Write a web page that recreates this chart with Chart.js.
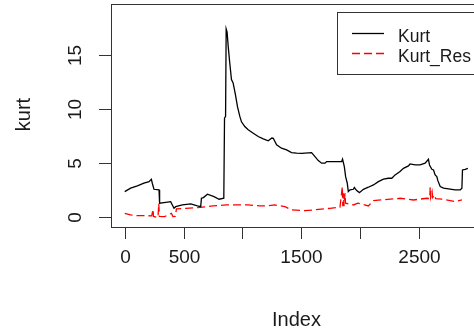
<!DOCTYPE html>
<html>
<head>
<meta charset="utf-8">
<script src="https://cdn.jsdelivr.net/npm/chart.js@4/dist/chart.umd.min.js"></script>
<style>
    html, body { margin: 0; padding: 0; background: #fff; overflow: hidden; }
    canvas { display: block; }
</style>
</head>
<body>
<canvas id="kurtChart" width="490" height="333"></canvas>
<script>
// Dati: indice e valore della serie Kurt
const kurtIndice = [1, 51, 108, 164, 207, 227, 235, 249, 292, 297, 334, 391, 405, 419, 434, 490, 561, 618, 646,
    652, 669, 703, 759, 802, 842, 848, 857, 862, 870, 879, 893, 907, 921, 941, 958, 978, 992, 1020, 1049, 1092,
    1134, 1177, 1219, 1250, 1262, 1290, 1332, 1375, 1417, 1460, 1502, 1587, 1616, 1644, 1672, 1701, 1715, 1842,
    1850, 1865, 1876, 1890, 1899, 1913, 1942, 1950, 1970, 1993, 2027, 2069, 2112, 2154, 2197, 2239, 2268, 2296,
    2338, 2367, 2409, 2423, 2466, 2508, 2551, 2579, 2588, 2608, 2622, 2636, 2650, 2659, 2679, 2707, 2749, 2806,
    2849, 2863, 2868, 2891, 2914];
const kurtValori = [2.34, 2.66, 2.87, 3.12, 3.27, 3.49, 3.12, 2.56, 2.50, 1.27, 1.33, 1.42, 1.11, 0.80, 0.95, 1.11, 1.20, 1.02, 0.95,
    1.73, 1.79, 2.10, 1.88, 1.64, 1.73, 9.14, 9.30, 17.4, 17.1, 15.8, 14.2, 12.7, 12.4, 11.3, 10.2, 9.3, 8.8, 8.36, 8.06, 7.75,
    7.44, 7.22, 7.04, 7.30, 7.28, 6.67, 6.36, 6.20, 5.95, 5.90, 5.88, 5.95, 5.58, 5.21, 4.97, 4.97, 5.12, 5.12,
    5.34, 4.66, 3.73, 3.12, 2.34, 2.50, 2.56, 2.72, 2.44, 2.25, 2.56, 2.75, 2.96, 3.27, 3.49, 3.58, 3.58, 3.89,
    4.20, 4.50, 4.72, 4.90, 4.81, 4.81, 4.97, 5.34, 4.81, 4.41, 4.35, 3.89, 3.73, 3.36, 2.81, 2.66, 2.59, 2.50,
    2.50, 2.66, 4.35, 4.41, 4.50];

// Dati della serie Kurt_Res
const resIndice = [1, 50, 100, 184, 230, 241, 245, 283, 290, 295, 340, 397, 410, 430, 440, 520, 640, 751, 864, 1049,
    1148, 1190, 1276, 1361, 1417, 1531, 1601, 1743, 1828, 1848, 1852, 1858, 1862, 1871, 1875, 1942, 1980, 2069, 2112,
    2254, 2338, 2452, 2565, 2590, 2594, 2598, 2610, 2615, 2630, 2640, 2693, 2764, 2806, 2863];
const resValori = [0.34, 0.20, 0.12, 0.12, 0.10, 0.71, 0.05, -0.05, 1.25, 0.05, 0.03, 0.34, 0.03, 0.05, 0.75, 0.80, 0.88, 1.02, 1.11, 1.11,
    1.02, 1.02, 1.11, 0.95, 0.65, 0.58, 0.65, 0.80, 0.90, 2.81, 1.00, 2.19, 1.00, 2.19, 1.27, 1.11, 1.27, 1.02, 1.51,
    1.64, 1.73, 1.57, 1.73, 1.70, 2.75, 1.80, 2.34, 1.80, 2.04, 1.70, 1.64, 1.51, 1.42, 1.57];

// Tacche degli assi
const tackX = [0, 500, 1000, 1500, 2000, 2500, 3000];
const etichetteX = ['0', '500', '', '1500', '', '2500', ''];
const tackY = [0, 5, 10, 15];
const etichetteY = ['0', '5', '10', '15'];

const nomiSerie = ['Kurt', 'Kurt_Res'];

const FONT = "'Liberation Sans', Arial, sans-serif";

// Costruisce i punti {x, y} per Chart.js
function creaPunti(indici, valori) {
    return indici.map((x, i) => ({ x: x, y: valori[i] }));
}

// Plugin che disegna assi e legenda in stile R
const assiR = {
    id: 'assiR',
    afterDraw(chart) {
        const ctx = chart.ctx;
        const area = chart.chartArea;
        const sx = chart.scales.x;
        const sy = chart.scales.y;

        ctx.save();
        ctx.strokeStyle = '#333';
        ctx.lineWidth = 1;
        ctx.strokeRect(Math.round(area.left) + 0.5, Math.round(area.top) + 0.5,
            Math.round(area.right - area.left), Math.round(area.bottom - area.top));

        ctx.fillStyle = '#1a1a1a';
        ctx.font = '19px ' + FONT;

        // asse x
        ctx.textAlign = 'center';
        ctx.textBaseline = 'alphabetic';
        tackX.forEach((v, i) => {
            const px = Math.round(sx.getPixelForValue(v)) + 0.5;
            ctx.beginPath();
            ctx.moveTo(px, area.bottom);
            ctx.lineTo(px, area.bottom + 12);
            ctx.stroke();
            if (etichetteX[i]) ctx.fillText(etichetteX[i], px, 263);
        });

        // asse y
        tackY.forEach((v, i) => {
            const py = Math.round(sy.getPixelForValue(v)) + 0.5;
            ctx.beginPath();
            ctx.moveTo(area.left, py);
            ctx.lineTo(area.left - 12, py);
            ctx.stroke();
            ctx.save();
            ctx.translate(81, py);
            ctx.rotate(-Math.PI / 2);
            ctx.fillText(etichetteY[i], 0, 0);
            ctx.restore();
        });

        // titoli degli assi
        ctx.font = '20px ' + FONT;
        ctx.fillText('Index', (area.left + area.right) / 2, 326);
        ctx.save();
        ctx.translate(30, (area.top + area.bottom) / 2 - 1);
        ctx.rotate(-Math.PI / 2);
        ctx.fillText('kurt', 0, 0);
        ctx.restore();

        // legenda
        ctx.fillStyle = '#fff';
        ctx.fillRect(337.5, 12.5, 143, 62);
        ctx.strokeRect(337.5, 12.5, 143, 62);
        ctx.lineWidth = 1.3;
        ctx.strokeStyle = '#000';
        ctx.beginPath();
        ctx.moveTo(352, 33.5);
        ctx.lineTo(384, 33.5);
        ctx.stroke();
        ctx.strokeStyle = '#ff0000';
        ctx.setLineDash([8, 4]);
        ctx.beginPath();
        ctx.moveTo(352, 53.5);
        ctx.lineTo(384, 53.5);
        ctx.stroke();
        ctx.setLineDash([]);
        ctx.fillStyle = '#1a1a1a';
        ctx.font = '17.5px ' + FONT;
        ctx.textAlign = 'left';
        ctx.fillText(nomiSerie[0], 398, 41.5);
        ctx.fillText(nomiSerie[1], 398, 62);
        ctx.restore();
    }
};

new Chart(document.getElementById('kurtChart').getContext('2d'), {
    type: 'line',
    data: {
        datasets: [{
            label: nomiSerie[0],
            data: creaPunti(kurtIndice, kurtValori),
            borderColor: '#000',
            borderWidth: 1.3,
            pointRadius: 0,
            tension: 0
        },
        {
            label: nomiSerie[1],
            data: creaPunti(resIndice, resValori),
            borderColor: '#ff0000',
            borderWidth: 1.3,
            borderDash: [8, 4],
            pointRadius: 0,
            tension: 0
        }]
    },
    options: {
        responsive: false,
        animation: false,
        devicePixelRatio: 1,
        layout: { padding: { left: 111, top: 4, right: 8, bottom: 106 } },
        plugins: { legend: { display: false }, tooltip: { enabled: false } },
        scales: {
            x: { type: 'linear', min: -115.6, max: 3033.7, display: false },
            y: { type: 'linear', min: -0.93, max: 19.7, display: false }
        }
    },
    plugins: [assiR]
});
</script>
</body>
</html>
